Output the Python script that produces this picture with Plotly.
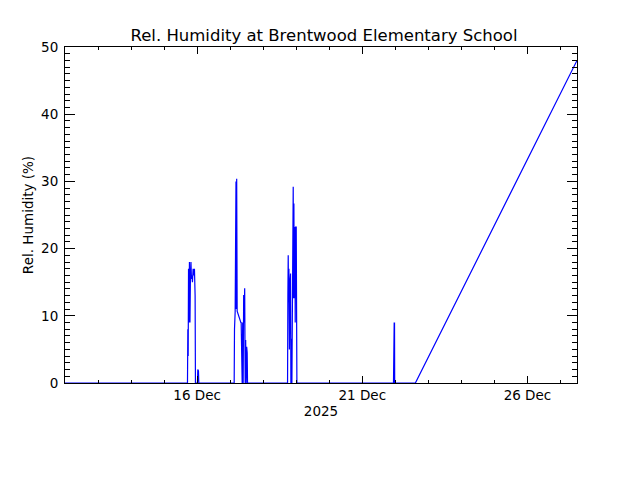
import plotly.graph_objects as go

# relative humidity samples, Dec 2025
times = [
    "2025-12-12 00:00", "2025-12-15 17:00",
    "2025-12-15 17:15", "2025-12-15 17:30", "2025-12-15 17:45", "2025-12-15 18:00",
    "2025-12-15 18:25", "2025-12-15 18:47", "2025-12-15 19:09", "2025-12-15 19:31",
    "2025-12-15 19:53", "2025-12-15 20:15", "2025-12-15 20:36", "2025-12-15 21:05",
    "2025-12-15 21:34", "2025-12-15 22:03", "2025-12-15 22:32", "2025-12-15 22:47",
    "2025-12-16 00:14", "2025-12-16 00:29", "2025-12-16 00:58", "2025-12-16 01:13",
    "2025-12-17 02:55", "2025-12-17 03:09", "2025-12-17 03:38", "2025-12-17 04:14",
    "2025-12-17 04:29", "2025-12-17 04:44", "2025-12-17 05:05", "2025-12-17 05:35",
    "2025-12-17 06:18", "2025-12-17 07:02", "2025-12-17 07:45", "2025-12-17 08:00",
    "2025-12-17 08:15", "2025-12-17 08:29", "2025-12-17 08:44", "2025-12-17 09:06",
    "2025-12-17 09:27", "2025-12-17 09:49", "2025-12-17 10:11", "2025-12-17 10:33",
    "2025-12-17 10:55", "2025-12-17 11:16", "2025-12-17 11:38", "2025-12-17 12:00",
    "2025-12-17 12:22", "2025-12-17 12:37",
    "2025-12-18 17:42", "2025-12-18 17:56", "2025-12-18 18:11", "2025-12-18 18:25",
    "2025-12-18 18:40", "2025-12-18 19:02", "2025-12-18 19:24", "2025-12-18 19:53",
    "2025-12-18 20:07", "2025-12-18 20:36", "2025-12-18 20:51", "2025-12-18 21:20",
    "2025-12-18 21:34", "2025-12-18 21:49", "2025-12-18 22:03", "2025-12-18 22:18",
    "2025-12-18 22:33", "2025-12-18 23:02", "2025-12-18 23:16", "2025-12-18 23:31",
    "2025-12-19 00:00", "2025-12-19 00:14", "2025-12-19 00:29",
    "2025-12-21 22:40", "2025-12-21 22:46", "2025-12-21 23:00", "2025-12-21 23:10",
    "2025-12-21 23:25", "2025-12-21 23:32",
    "2025-12-22 14:34", "2025-12-27 12:00",
]
rh = [
    0, 0,
    8, 4, 17, 9,
    18, 9, 16, 18,
    15.5, 16, 15, 17,
    16, 17, 13, 0,
    0, 2, 1.8, 0,
    0, 8, 10.6, 30,
    11, 30.4, 10.7, 10.3,
    9.9, 9.5, 9.0, 9.0,
    0, 3.2, 0, 9,
    0, 13.1, 9, 14.1,
    0, 6.4, 0, 5.4,
    4.5, 0,
    0, 13.1, 19, 12,
    17, 5, 15, 16.3,
    0, 6.6, 0, 26.7,
    26, 29.2, 12.6, 26.7,
    12.6, 23.2, 9, 23.2,
    23.2, 8.4, 0,
    0, 8.9, 0.5, 8.9,
    8.9, 0,
    0, 48.0,
]

fig = go.Figure()
fig.add_trace(go.Scatter(x=times, y=rh, mode="lines",
                         line=dict(color="#0000ff", width=1.2), showlegend=False))

lbl = dict(family="DejaVu Sans", size=13.5, color="black")

# page body has an 8px margin, so the figure is a bit smaller than the window
fig.update_layout(
    width=632, height=472,
    margin=dict(l=57, r=63, t=39, b=97),
    paper_bgcolor="white", plot_bgcolor="white",
    font=lbl,
    title=dict(text="Rel. Humidity at Brentwood Elementary School",
               x=0.5, xanchor="center", y=0.943, yanchor="middle",
               font=dict(family="DejaVu Sans", size=16.5, color="black")),
)

fig.update_xaxes(
    type="date",
    range=["2025-12-12 00:00", "2025-12-27 12:00"],
    tick0="2025-12-16", dtick=5 * 86400000,
    tickformat="%d %b", tickfont=lbl,
    ticks="inside", ticklen=7, tickcolor="black", tickwidth=1,
    minor=dict(dtick=86400000, ticks="inside", ticklen=3, tickcolor="black"),
    showline=True, linecolor="black", linewidth=1, mirror="ticks",
    showgrid=False, zeroline=False, automargin=False,
    title=dict(text="2025", standoff=4, font=lbl),
)

fig.update_yaxes(
    range=[0, 50],
    dtick=10, tickfont=lbl,
    ticks="inside", ticklen=10, tickcolor="black", tickwidth=1,
    minor=dict(dtick=1, ticks="inside", ticklen=5, tickcolor="black"),
    showline=True, linecolor="black", linewidth=1, mirror="ticks",
    showgrid=False, zeroline=False, automargin=False,
    ticklabelstandoff=3,
    title=dict(text="Rel. Humidity (%)", standoff=4, font=lbl),
)

fig.write_html("out.html")
